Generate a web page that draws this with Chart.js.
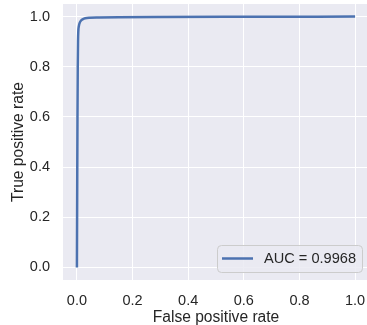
<!DOCTYPE html>
<html>
<head>
<meta charset="utf-8">
<script src="https://cdn.jsdelivr.net/npm/chart.js@4"></script>
<style>
  html, body { margin: 0; padding: 0; background: #ffffff; overflow: hidden; }
  #wrap { width: 367px; height: 325px; overflow: hidden; }
</style>
</head>
<body>
<div id="wrap"><canvas id="roc" width="372" height="325"></canvas></div>
<script>
// ROC curve values
const fpr = [0, 0.001, 0.002, 0.003, 0.004, 0.005, 0.007, 0.01, 0.015, 0.022, 0.03, 0.045, 0.08, 0.15, 0.3, 0.6, 1.0];
const tpr = [0, 0.3, 0.6, 0.8, 0.9, 0.94, 0.962, 0.975, 0.984, 0.99, 0.993, 0.995, 0.996, 0.997, 0.998, 0.999, 1.0];
const tickVals = [0, 0.2, 0.4, 0.6, 0.8, 1.0];
const aucLabel = 'AUC = 0.9968';

const textColor = '#262626';
const fontFam = '"Liberation Sans", Arial, sans-serif';

// seaborn-like grey panel behind the plot
const panelBg = {
  id: 'panelBg',
  beforeDraw(chart) {
    const a = chart.chartArea;
    const ctx = chart.ctx;
    ctx.save();
    ctx.fillStyle = '#eaeaf2';
    ctx.fillRect(a.left, a.top, a.right - a.left, a.bottom - a.top);
    ctx.restore();
  }
};

// legend box in the lower right corner
const legendBox = {
  id: 'legendBox',
  afterDraw(chart) {
    const ctx = chart.ctx;
    const ds = chart.data.datasets[0];
    const x = 217, y = 245, w = 145, h = 27, r = 4;
    ctx.save();
    ctx.beginPath();
    ctx.roundRect(x + 0.5, y + 0.5, w, h, r);
    ctx.fillStyle = 'rgba(234,234,242,0.85)';
    ctx.fill();
    ctx.strokeStyle = '#cccccc';
    ctx.lineWidth = 1;
    ctx.stroke();
    ctx.beginPath();
    ctx.moveTo(x + 5, y + 13.5);
    ctx.lineTo(x + 36, y + 13.5);
    ctx.strokeStyle = ds.borderColor;
    ctx.lineWidth = 2.5;
    ctx.stroke();
    ctx.fillStyle = textColor;
    ctx.font = '14.6px ' + fontFam;
    ctx.textBaseline = 'middle';
    ctx.fillText(ds.label, x + 47, y + 14);
    ctx.restore();
  }
};

new Chart(document.getElementById('roc').getContext('2d'), {
  type: 'line',
  data: {
    datasets: [{
      label: aucLabel,
      data: fpr.map((v, i) => ({ x: v, y: tpr[i] })),
      borderColor: '#4c72b0',
      borderWidth: 2.5,
      pointRadius: 0,
      cubicInterpolationMode: 'monotone',
      fill: false
    }]
  },
  options: {
    responsive: false,
    animation: false,
    layout: { padding: { top: 4, right: 3, left: 0, bottom: 0 } },
    plugins: {
      legend: { display: false },
      tooltip: { enabled: false }
    },
    scales: {
      x: {
        type: 'linear',
        min: -0.05,
        max: 1.05,
        afterBuildTicks: s => { s.ticks = tickVals.map(v => ({ value: v })); },
        afterFit: s => { s.height = 45; s.paddingLeft = 0; s.paddingRight = 0; },
        grid: { color: '#ffffff', lineWidth: 1, drawTicks: false },
        border: { display: false },
        ticks: {
          padding: 12,
          color: textColor,
          font: { family: fontFam, size: 14.5 },
          callback: v => v.toFixed(1)
        },
        title: {
          display: true,
          text: 'False positive rate',
          color: textColor,
          font: { family: fontFam, size: 15.6, lineHeight: 1 },
          padding: { top: 0, bottom: 0 }
        }
      },
      y: {
        type: 'linear',
        min: -0.05,
        max: 1.05,
        afterBuildTicks: s => { s.ticks = tickVals.map(v => ({ value: v })); },
        afterFit: s => { s.width = 63; s.paddingTop = 0; s.paddingBottom = 0; },
        grid: { color: '#ffffff', lineWidth: 1, drawTicks: false },
        border: { display: false },
        ticks: {
          padding: 13,
          color: textColor,
          font: { family: fontFam, size: 14.5 },
          callback: v => v.toFixed(1)
        },
        title: {
          display: true,
          text: 'True positive rate',
          color: textColor,
          font: { family: fontFam, size: 15.6 },
          padding: { top: 9, bottom: 0 }
        }
      }
    }
  },
  plugins: [panelBg, legendBox]
});
</script>
</body>
</html>
